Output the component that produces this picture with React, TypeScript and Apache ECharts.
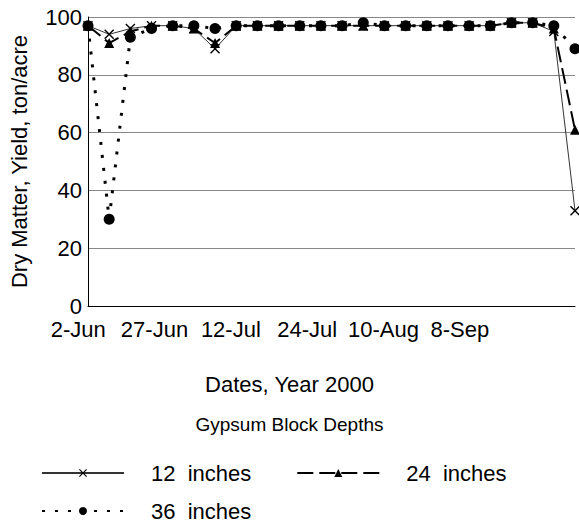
import React, { useEffect, useRef } from "react";
import * as echarts from "echarts";

const dates = [
  "2-Jun", "8-Jun", "14-Jun", "21-Jun", "27-Jun", "30-Jun", "5-Jul", "9-Jul",
  "12-Jul", "15-Jul", "18-Jul", "21-Jul", "24-Jul", "28-Jul", "1-Aug", "5-Aug",
  "10-Aug", "17-Aug", "24-Aug", "31-Aug", "8-Sep", "15-Sep", "22-Sep", "29-Sep",
];
const tickLabels = ["2-Jun", "27-Jun", "12-Jul", "24-Jul", "10-Aug", "8-Sep"];
const yTicks = [0, 20, 40, 60, 80, 100];

const in12 = [97, 94, 96, 97, 97, 96, 89, 97, 97, 97, 97, 97, 97, 97, 97, 97, 97, 97, 97, 97, 98, 98, 95, 33];
const in24 = [97, 91, 95, 97, 97, 96, 91, 97, 97, 97, 97, 97, 97, 97, 97, 97, 97, 97, 97, 97, 98, 98, 96, 61];
const in36 = [97, 30, 93, 96, 97, 97, 96, 97, 97, 97, 97, 97, 97, 98, 97, 97, 97, 97, 97, 97, 98, 98, 97, 89];

const FONT = "Liberation Sans, Arial, sans-serif";
const X_SYMBOL =
  "path://M1,0 L5,4 L9,0 L10,1 L6,5 L10,9 L9,10 L5,6 L1,10 L0,9 L4,5 L0,1 Z";

export default function App() {
  const ref = useRef<HTMLDivElement>(null);
  useEffect(() => {
    if (!ref.current) return;
    const chart = echarts.init(ref.current, null, { renderer: "svg" });
    chart.setOption({
      animation: false,
      backgroundColor: "#fff",
      textStyle: { fontFamily: FONT, color: "#000" },
      title: [
        {
          text: "Dates, Year 2000",
          left: "center",
          top: 368,
          textStyle: { fontSize: 22, fontWeight: "normal", color: "#000", fontFamily: FONT },
        },
        {
          text: "Gypsum Block Depths",
          left: "center",
          top: 410,
          textStyle: { fontSize: 19, fontWeight: "normal", color: "#000", fontFamily: FONT },
        },
      ],
      legend: [
        {
          data: ["12  inches", "24  inches"],
          left: 36,
          top: 457,
          itemWidth: 82,
          itemHeight: 10,
          itemGap: 45,
          textStyle: { fontSize: 22, color: "#000", fontFamily: FONT, padding: [0, 0, 0, 22] },
        },
        {
          data: ["36  inches"],
          left: 36,
          top: 495,
          itemWidth: 82,
          itemHeight: 10,
          textStyle: { fontSize: 22, color: "#000", fontFamily: FONT, padding: [0, 0, 0, 22] },
        },
      ],
      grid: [
        { left: 86, right: 4, top: 17, bottom: 218 },
        { left: 40, width: 458, top: 17, bottom: 218 },
      ],
      xAxis: [
        {
          type: "category",
          gridIndex: 0,
          data: dates,
          boundaryGap: false,
          axisLine: { lineStyle: { color: "#000", width: 1 } },
          axisTick: { show: false },
          axisLabel: { show: false },
        },
        {
          type: "category",
          gridIndex: 1,
          data: tickLabels,
          boundaryGap: true,
          axisLine: { show: false },
          axisTick: { show: false },
          axisLabel: {
            interval: 0,
            fontSize: 22,
            color: "#000",
            fontFamily: FONT,
            margin: 12,
          },
        },
      ],
      yAxis: [
        {
          type: "value",
          gridIndex: 0,
          min: yTicks[0],
          max: yTicks[yTicks.length - 1],
          interval: 20,
          name: "Dry Matter, Yield, ton/acre",
          nameLocation: "middle",
          nameGap: 58,
          nameTextStyle: { fontSize: 22, color: "#000", fontFamily: FONT },
          axisLine: { show: true, lineStyle: { color: "#000", width: 1 } },
          axisTick: { show: false },
          axisLabel: { fontSize: 22, color: "#000", fontFamily: FONT, margin: 6 },
          splitLine: { lineStyle: { color: "#888", width: 1 } },
        },
        {
          type: "value",
          gridIndex: 1,
          show: false,
          min: 0,
          max: 100,
        },
      ],
      series: [
        {
          name: "12  inches",
          type: "line",
          data: in12,
          symbol: X_SYMBOL,
          symbolSize: 10,
          itemStyle: { color: "#000" },
          lineStyle: { color: "#333", width: 1 },
          z: 3,
        },
        {
          name: "24  inches",
          type: "line",
          data: in24,
          symbol: "triangle",
          symbolSize: 10,
          itemStyle: { color: "#000" },
          lineStyle: { color: "#000", width: 2, type: [16, 6] },
          z: 4,
        },
        {
          name: "36  inches",
          type: "line",
          data: in36,
          symbol: "circle",
          symbolSize: 11,
          itemStyle: { color: "#000" },
          lineStyle: { color: "#000", width: 3, type: [3, 10] },
          z: 5,
        },
      ],
    });
    return () => chart.dispose();
  }, []);
  return (
    <div
      ref={ref}
      style={{ position: "fixed", left: 0, top: 0, width: 579, height: 524 }}
    />
  );
}
